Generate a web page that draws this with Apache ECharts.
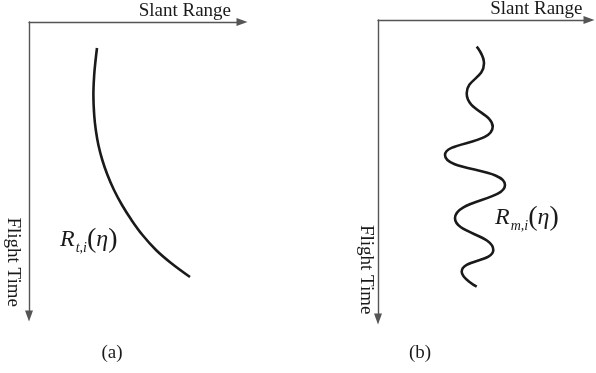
<!DOCTYPE html>
<html><head><meta charset="utf-8">
<script src="https://cdn.jsdelivr.net/npm/echarts@6/dist/echarts.min.js"></script>
<style>html,body{margin:0;padding:0;background:#fff}#c{width:596px;height:373px}</style>
</head><body><div id="c"></div>
<script>
// Axis titles and panel captions
const xAxisNames = ['Slant Range', 'Slant Range'];
const yAxisNames = ['Flight Time', 'Flight Time'];
const panelLabels = ['(a)', '(b)'];
// Curve (a): R_t,i(eta) — slant range vs flight time (units from the axes origin)
const curveA_range = [68, 66.6, 65.2, 64.4, 65.2, 66.8, 69.4, 73.3, 78.5, 85, 93, 102.5, 113.5, 127, 142, 161];
const curveA_time  = [26, 38, 53, 73, 93, 108, 123, 138, 153, 168, 183, 198, 213, 228, 241, 255];
// Curve (b): R_m,i(eta) — oscillating slant range vs flight time
const curveB_range = [98.7, 106, 88.7, 114.7, 67, 127, 77, 115.3, 83.7, 98.7];
const curveB_time  = [26.7, 43.3, 73.3, 106.7, 135, 165, 198.3, 230, 251.7, 266.7];

const serif = "'Liberation Serif','Times New Roman',serif";
const ink = '#1a1a1a';
const axisCol = '#555';

function pairs(xs, ys) { return xs.map((v, i) => [v, ys[i]]); }

const chart = echarts.init(document.getElementById('c'), null, {renderer: 'canvas'});

const grids = [
  {left: 29, top: 22, width: 213, height: 294},
  {left: 378, top: 20, width: 211, height: 299}
];
const xGap = [-11, -6.5];
const yGap = [-9, -4.5];
const yPad = [7, 3];

function xAx(i) {
  return {
    gridIndex: i, type: 'value', position: 'top', min: 0, max: grids[i].width,
    axisLine: {show: true, onZero: false, symbol: ['none', 'triangle'], symbolSize: [8, 11],
      lineStyle: {color: axisCol, width: 1.4}},
    axisTick: {show: false}, axisLabel: {show: false}, splitLine: {show: false},
    name: xAxisNames[i], nameLocation: 'end', nameGap: xGap[i],
    nameTextStyle: {fontFamily: serif, fontSize: 19, color: ink, align: 'right', verticalAlign: 'bottom', padding: [0, 0, 1, 0]}
  };
}
function yAx(i) {
  return {
    gridIndex: i, type: 'value', inverse: true, min: 0, max: grids[i].height,
    axisLine: {show: true, onZero: false, symbol: ['triangle', 'none'], symbolSize: [8, 11],
      lineStyle: {color: axisCol, width: 1.4}},
    axisTick: {show: false}, axisLabel: {show: false}, splitLine: {show: false},
    name: yAxisNames[i], nameLocation: 'end', nameGap: yGap[i], nameRotate: -90,
    nameTextStyle: {fontFamily: serif, fontSize: 19, color: ink, align: 'right', verticalAlign: 'top', padding: [yPad[i], 0, 0, 0]}
  };
}

function formula(sub) {
  return {
    text: '{R|R}{s|' + sub + '}{p|(}{e|η}{p|)}',
    align: 'left', verticalAlign: 'middle', textAlign: 'left', textVerticalAlign: 'middle',
    rich: {
      R: {fontFamily: serif, fontSize: 24, fontStyle: 'italic', fill: ink, verticalAlign: 'middle'},
      s: {fontFamily: serif, fontSize: 14, fontStyle: 'italic', fill: ink, verticalAlign: 'middle', padding: [17, 0, 0, 1]},
      p: {fontFamily: serif, fontSize: 28, fill: ink, verticalAlign: 'middle'},
      e: {fontFamily: serif, fontSize: 24, fontStyle: 'italic', fill: ink, verticalAlign: 'middle'}
    }
  };
}

const option = {
  animation: false,
  backgroundColor: '#fff',
  grid: grids.map(g => Object.assign({containLabel: false}, g)),
  xAxis: [xAx(0), xAx(1)],
  yAxis: [yAx(0), yAx(1)],
  series: [
    {type: 'line', xAxisIndex: 0, yAxisIndex: 0, data: pairs(curveA_range, curveA_time),
      smooth: 0.4, showSymbol: false, lineStyle: {color: ink, width: 2.6}},
    {type: 'line', xAxisIndex: 1, yAxisIndex: 1, data: pairs(curveB_range, curveB_time),
      smooth: 0.5, showSymbol: false, lineStyle: {color: ink, width: 2.6}}
  ],
  graphic: [
    {type: 'text', x: 60, y: 240, style: formula('t,i')},
    {type: 'text', x: 495, y: 218, style: formula('m,i')},
    {type: 'text', x: 112, y: 353, style: {text: panelLabels[0], font: '19px ' + serif, fill: ink,
      align: 'center', verticalAlign: 'middle', textAlign: 'center', textVerticalAlign: 'middle'}},
    {type: 'text', x: 420, y: 353, style: {text: panelLabels[1], font: '19px ' + serif, fill: ink,
      align: 'center', verticalAlign: 'middle', textAlign: 'center', textVerticalAlign: 'middle'}}
  ]
};
chart.setOption(option);
</script>
</body></html>
